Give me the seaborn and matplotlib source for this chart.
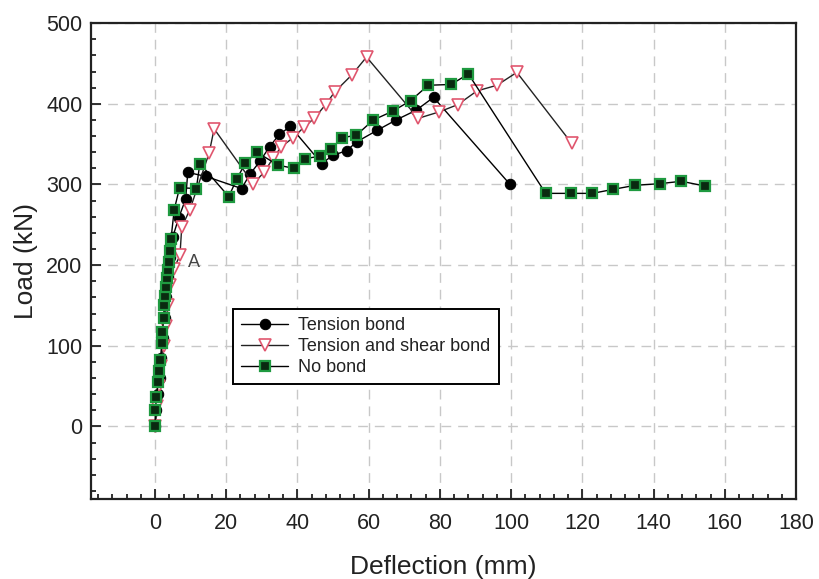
import matplotlib
matplotlib.use("Agg")
import matplotlib.pyplot as plt
import seaborn as sns
import numpy as np
from matplotlib.ticker import MultipleLocator

# ---- data ----
tb_x = [0, 0.4, 0.9, 1.3, 1.8, 2.2, 2.7, 3.1, 3.6, 4.2, 5.0, 6.6, 8.6, 9.2, 14.3,
        24.3, 26.7, 29.5, 32.2, 34.9, 38.0, 46.8, 49.9, 53.8, 56.7, 62.3, 67.7,
        73.3, 78.2, 99.7]
tb_y = [0, 20, 40, 60, 85, 110, 135, 160, 185, 210, 235, 258, 282, 315, 310,
        295, 313, 329, 347, 362, 372, 326, 336, 342, 353, 367, 380,
        392, 408, 300]

ts_x = [0, 0.6, 1.2, 1.8, 2.4, 3.0, 3.6, 4.3, 5.2, 7.0, 7.5, 9.8, 15.2, 16.6,
        27.6, 30.6, 33.2, 35.5, 38.8, 41.8, 44.7, 47.9, 50.5, 55.3, 59.4,
        73.9, 79.8, 85.0, 90.4, 96.0, 101.6, 117.0]
ts_y = [0, 25, 50, 75, 100, 125, 150, 175, 195, 212, 247, 269, 339, 369,
        301, 315, 333, 347, 358, 371, 382, 399, 415, 436, 458,
        382, 390, 399, 416, 423, 439, 351]

nb_x = [0, 0.1, 0.4, 0.9, 1.2, 1.5, 1.9, 2.1, 2.4, 2.6, 2.9, 3.1, 3.3, 3.6, 3.9,
        4.1, 4.5, 5.4, 6.9, 11.6, 12.6, 20.7, 23.0, 25.4, 28.6, 34.5, 39.0,
        42.1, 46.2, 49.4, 52.5, 56.5, 61.3, 66.8, 71.8, 76.7, 83.1, 88.0,
        109.7, 116.9, 122.8, 128.7, 134.8, 141.7, 147.8, 154.5]
nb_y = [0, 20, 36, 55, 69, 82, 103, 117, 134, 150, 162, 173, 184, 194, 204,
        217, 233, 269, 296, 295, 326, 285, 307, 327, 340, 324, 320,
        332, 335, 344, 358, 361, 380, 391, 404, 423, 424, 437,
        289, 289, 289, 294, 299, 301, 304, 298]

labels = ["Tension bond", "Tension and shear bond", "No bond"]
x_ticks = list(range(0, 181, 20))
y_ticks = list(range(0, 501, 100))

# ---- style ----
sns.set_style("white")
plt.rcParams["font.family"] = ["Liberation Sans", "DejaVu Sans"]

fig = plt.figure(figsize=(8.19, 5.79), dpi=100)
ax = fig.add_axes([0.111, 0.138, 0.861, 0.822])

RED = "#e0566e"
GREEN = "#1f9a40"

sns.lineplot(x=tb_x, y=tb_y, sort=False, estimator=None, ax=ax, color="black",
             lw=1.0, marker="o", markersize=7.5, markerfacecolor="black",
             markeredgecolor="black", label=labels[0], zorder=3)
sns.lineplot(x=ts_x, y=ts_y, sort=False, estimator=None, ax=ax, color="#222222",
             lw=1.0, marker="v", markersize=9, markerfacecolor="white",
             markeredgecolor=RED, markeredgewidth=1.2, label=labels[1], zorder=4)
sns.lineplot(x=nb_x, y=nb_y, sort=False, estimator=None, ax=ax, color="black",
             lw=1.0, marker="s", markersize=6.5, markerfacecolor="#0a2a10",
             markeredgecolor=GREEN, markeredgewidth=1.6, label=labels[2], zorder=5)

ax.text(9.3, 203, "A", fontsize=13, color="#444444", ha="left", va="center")

ax.set_xlim(-18, 180)
ax.set_ylim(-90, 500)
ax.set_xticks(x_ticks)
ax.set_yticks(y_ticks)
ax.xaxis.set_minor_locator(MultipleLocator(4))
ax.yaxis.set_minor_locator(MultipleLocator(20))
ax.tick_params(axis="both", which="major", direction="in", length=7, width=1.3,
               labelsize=15.5, colors="#222222", bottom=True, left=True,
               top=False, right=False)
ax.tick_params(axis="both", which="minor", direction="in", length=3.5, width=1.3,
               colors="#222222", bottom=True, left=True, top=False, right=False)
ax.tick_params(axis="x", which="major", pad=10)
ax.tick_params(axis="y", which="major", pad=6)

ax.grid(True, which="major", color="#c8c8c8", linestyle=(0, (7, 5)), linewidth=1.0)
ax.set_axisbelow(True)
for s in ax.spines.values():
    s.set_visible(True)
    s.set_color("#222222")
    s.set_linewidth(1.6)

ax.set_xlabel("Deflection (mm)", fontsize=19, color="#222222", labelpad=15)
ax.set_ylabel("Load (kN)", fontsize=19, color="#222222", labelpad=6)

leg = ax.legend(loc="lower left", bbox_to_anchor=(0.2018, 0.2416), fontsize=13,
                frameon=True, fancybox=False, edgecolor="black", framealpha=1,
                borderpad=0.45, labelspacing=0.22, handlelength=2.6,
                handletextpad=0.55, borderaxespad=0)
leg.get_frame().set_linewidth(1.4)
for t in leg.get_texts():
    t.set_color("#222222")

fig.savefig("out.png", dpi=100)
